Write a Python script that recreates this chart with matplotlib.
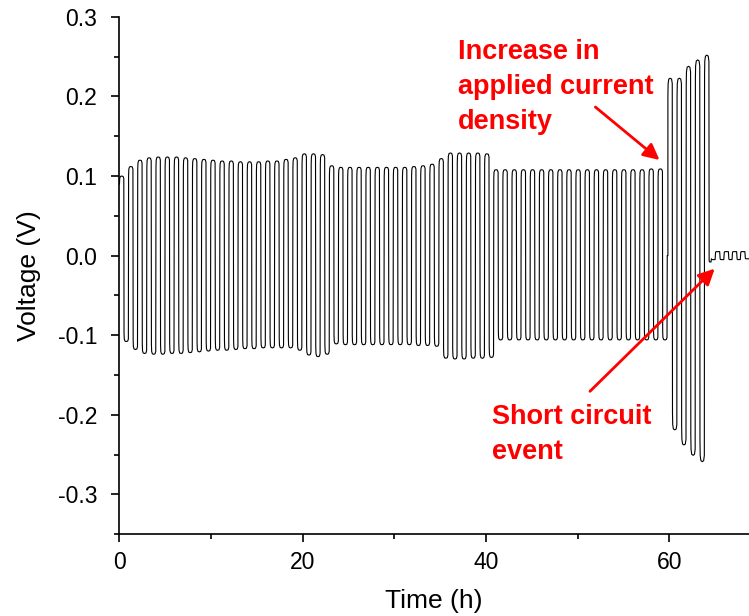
import numpy as np
import matplotlib
matplotlib.use("Agg")
import matplotlib.pyplot as plt
from matplotlib.ticker import MultipleLocator, FormatStrFormatter

plt.rcParams['font.family'] = ['Liberation Sans', 'DejaVu Sans']
plt.rcParams['axes.unicode_minus'] = False

# peak voltage of each ~1 h cycle (charge half then discharge half)
small_pos = [0.100, 0.112, 0.120, 0.123, 0.124, 0.124, 0.124, 0.123, 0.122, 0.121,
             0.120, 0.119, 0.119, 0.118, 0.118, 0.118, 0.119, 0.119, 0.121, 0.123,
             0.128, 0.128, 0.127, 0.113, 0.111, 0.111, 0.111, 0.111, 0.111, 0.111,
             0.111, 0.111, 0.112, 0.113, 0.115, 0.122, 0.129, 0.129, 0.129, 0.129,
             0.128, 0.108, 0.108, 0.108, 0.108, 0.108, 0.108, 0.108, 0.108, 0.108,
             0.108, 0.108, 0.108, 0.108, 0.108, 0.108, 0.108, 0.108, 0.109, 0.109]
small_neg = [-0.108, -0.118, -0.123, -0.124, -0.124, -0.123, -0.123, -0.122, -0.121, -0.120,
             -0.119, -0.119, -0.118, -0.117, -0.117, -0.116, -0.116, -0.116, -0.116, -0.119,
             -0.125, -0.127, -0.124, -0.111, -0.112, -0.112, -0.112, -0.112, -0.112, -0.112,
             -0.112, -0.112, -0.113, -0.113, -0.114, -0.129, -0.130, -0.130, -0.129, -0.129,
             -0.128, -0.106, -0.106, -0.106, -0.106, -0.106, -0.106, -0.106, -0.106, -0.106,
             -0.106, -0.106, -0.106, -0.106, -0.106, -0.106, -0.106, -0.106, -0.106, -0.106]
small_period = 0.9963   # h

# higher current density cycles
big_start = 59.85
big_pos = [0.223, 0.223, 0.238, 0.246, 0.252]
big_neg = [-0.219, -0.238, -0.251, -0.259]

# after the short circuit
short_times = [64.35, 64.6, 65.05, 65.55, 66.0, 66.5, 66.9, 67.4, 67.8, 68.3, 68.7]
short_levels = [-0.008, -0.005, 0.005, -0.005, 0.005, -0.005, 0.005, -0.005, 0.005, -0.004]


def half(t0, t1, v):
    d = t1 - t0
    ts = [t0, t0 + 0.05*d, t0 + 0.2*d, t0 + 0.5*d, t0 + 0.8*d, t0 + 0.95*d]
    vs = [0.9*v, 0.97*v, 0.995*v, v, 0.995*v, 0.97*v]
    return ts, vs


t, v = [], []
for k in range(len(small_pos)):
    t0 = k * small_period
    for a, b, lev in [(t0, t0 + small_period/2, small_pos[k]),
                      (t0 + small_period/2, t0 + small_period, small_neg[k])]:
        ts, vs = half(a, b, lev)
        t += ts
        v += vs
t += [len(small_pos) * small_period, big_start]
v += [0.0, 0.0]
for k in range(len(big_pos)):
    ts, vs = half(big_start + k, big_start + k + 0.5, big_pos[k])
    t += ts
    v += vs
    if k < len(big_neg):
        ts, vs = half(big_start + k + 0.5, big_start + k + 1, big_neg[k])
        t += ts
        v += vs
for i in range(len(short_levels)):
    t += [short_times[i], short_times[i] + 0.05, short_times[i+1] - 0.05]
    v += [short_levels[i]*0.8, short_levels[i], short_levels[i]]

fig = plt.figure(figsize=(7.49, 6.16), dpi=100)
ax = fig.add_axes([0.1595, 0.133, 0.8405, 0.8395])
ax.plot(t, v, color='black', lw=0.8)

ax.set_xlim(0, 68.7)
ax.set_ylim(-0.35, 0.3)
ax.spines['top'].set_visible(False)
ax.spines['right'].set_visible(False)
ax.spines['left'].set_linewidth(1.2)
ax.spines['bottom'].set_linewidth(1.2)
ax.xaxis.set_major_locator(MultipleLocator(20))
ax.xaxis.set_minor_locator(MultipleLocator(10))
ax.yaxis.set_major_locator(MultipleLocator(0.1))
ax.yaxis.set_minor_locator(MultipleLocator(0.05))
ax.yaxis.set_major_formatter(FormatStrFormatter('%.1f'))
ax.tick_params(which='major', direction='out', length=6, width=1.2, labelsize=16.5)
ax.tick_params(axis='y', which='major', pad=10)
ax.tick_params(axis='x', which='major', pad=6)
ax.tick_params(which='minor', direction='out', length=3.5, width=1.2)

ax.set_xlabel('Time (h)', fontsize=19, labelpad=11)
ax.set_ylabel('Voltage (V)', fontsize=19, labelpad=12)

ax.text(36.94, 0.272, 'Increase in\napplied current\ndensity', color='red',
        fontsize=19.5, fontweight='bold', ha='left', va='top', linespacing=1.45)
ax.annotate('', xy=(59.17, 0.118), xytext=(51.7, 0.189),
            arrowprops=dict(arrowstyle='-|>', color='red', lw=2, mutation_scale=24))
ax.text(40.65, -0.186, 'Short circuit\nevent', color='red',
        fontsize=19.5, fontweight='bold', ha='left', va='top', linespacing=1.45)
ax.annotate('', xy=(65.17, -0.014), xytext=(51.13, -0.173),
            arrowprops=dict(arrowstyle='-|>', color='red', lw=2, mutation_scale=24))

fig.savefig('out.png', dpi=100)
